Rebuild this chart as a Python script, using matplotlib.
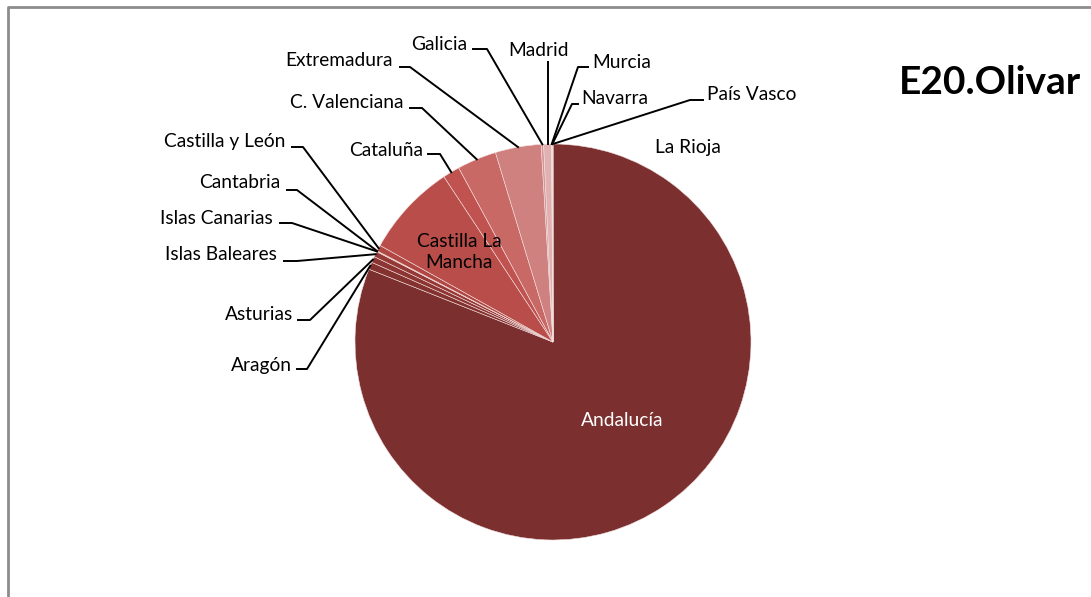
import matplotlib
matplotlib.use("Agg")
import matplotlib.pyplot as plt
import numpy as np
from matplotlib.lines import Line2D

plt.rcParams['font.family'] = ['Lato', 'DejaVu Sans']

# Datos (porcentaje estimado de superficie de olivar por comunidad)
regiones = ['Andalucía', 'Aragón', 'Asturias', 'Islas Baleares', 'Islas Canarias',
            'Cantabria', 'Castilla y León', 'Castilla La Mancha', 'Cataluña',
            'C. Valenciana', 'Extremadura', 'Galicia', 'Madrid', 'Murcia',
            'Navarra', 'País Vasco', 'La Rioja']
valores = [81.3, 0.6, 0.5, 0.45, 0.05, 0.02, 0.5, 7.64, 1.39,
           3.22, 3.75, 0.2, 0.64, 0.04, 0.06, 0.02, 0.0]
colores = ['#7b2f2f', '#83322f', '#8c3532', '#953936', '#9e3d3a', '#a7423e',
           '#b04743', '#b84d49', '#c0524f', '#c96966', '#cf817f', '#d69593',
           '#dfb2b1', '#e6c3c2', '#ecd3d2', '#f2e1e0', '#f7eeee']

W, H = 1091, 597
fig = plt.figure(figsize=(W / 100, H / 100), dpi=100)
ax = fig.add_axes([0, 0, 1, 1])

def py(y):
    # coordenada y en pixeles (desde arriba) -> datos
    return H - y

cx, cy, r = 553, py(342), 198
wedges, _ = ax.pie(valores, colors=colores, startangle=90, counterclock=False,
                   center=(cx, cy), radius=r, frame=True,
                   wedgeprops=dict(edgecolor='#f3dede', linewidth=0.4))
ax.set_xlim(0, W)
ax.set_ylim(0, H)
ax.axis('off')

def punto_borde(i):
    w = wedges[i]
    ang = np.deg2rad((w.theta1 + w.theta2) / 2)
    return cx + r * np.cos(ang), cy + r * np.sin(ang)

fs = 13.8
lw = 1.4
# etiquetas externas: (indice, x texto, y texto, alineacion, x1 linea, x2 codo, y linea)
externas = [
    (1, 292, 366, 'right', 297, 307, 369),
    (2, 293, 315, 'right', 298, 310, 320),
    (3, 277, 254, 'right', 284, 297, 261),
    (4, 273, 218, 'right', 280, 292, 223),
    (5, 280, 183, 'right', 287, 297, 190),
    (6, 285, 141, 'right', 292, 303, 147),
    (8, 423, 150, 'right', 428, 440, 154),
    (9, 403, 103, 'right', 410, 422, 108),
    (10, 393, 61, 'right', 400, 410, 67),
    (11, 467, 44, 'right', 473, 487, 49),
    (13, 592, 62, 'left', 588, 578, 67),
    (14, 581, 99, 'left', 578, 572, 104),
    (15, 707, 95, 'left', 703, 690, 100),
]
for i, tx, ty, ha, x1, x2, yl in externas:
    ax.text(tx, py(ty), regiones[i], ha=ha, va='center', fontsize=fs, color='black')
    bx, by = punto_borde(i)
    ax.add_line(Line2D([x1, x2, bx], [py(yl), py(yl), by], color='black', lw=lw))

# Madrid: linea vertical
bx, by = punto_borde(12)
ax.text(538, py(51), regiones[12], ha='center', va='center', fontsize=fs)
ax.add_line(Line2D([bx, bx], [py(62), by], color='black', lw=lw))

# etiquetas internas
ax.text(622, py(420), regiones[0], ha='center', va='center', fontsize=fs, color='white')
ax.text(459, py(252), 'Castilla La\nMancha', ha='center', va='center', fontsize=fs,
        linespacing=1.3)
ax.text(688, py(148), regiones[16], ha='center', va='center', fontsize=fs)

# titulo
ax.text(990, py(83), 'E20.Olivar', ha='center', va='center', fontsize=28,
        fontweight='bold')

# marco del grafico
ax.add_line(Line2D([8, 8, W], [0, py(7), py(7)], color='#8c8c8c', lw=2))

fig.savefig('out.png', dpi=100)
